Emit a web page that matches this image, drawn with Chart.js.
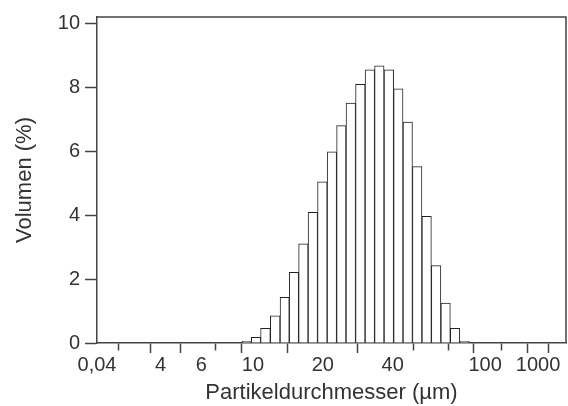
<!DOCTYPE html>
<html>
<head>
<meta charset="utf-8">
<script src="https://cdn.jsdelivr.net/npm/chart.js@4"></script>
<style>
    body { margin: 0; background: #fff; }
    #wrap { width: 568px; height: 406px; }
</style>
</head>
<body>
<div id="wrap"><canvas id="psdChart" width="568" height="406"></canvas></div>
<script>
// Partikelgrößenverteilung - Histogramm

// Klassenmitten (µm)
const binCenters = [9.4, 10.3, 11.3, 12.5, 13.7, 15.0, 16.5, 18.1, 19.9, 21.9, 24.0, 26.4,
    29.0, 31.9, 35.0, 38.5, 42.3, 46.4, 51.0, 56.0, 61.5, 67.6, 74.2, 81.5];
// Volumen (%)
const volumen = [0.05, 0.18, 0.46, 0.85, 1.43, 2.21, 3.10, 4.09, 5.04, 5.98, 6.80, 7.51,
    8.09, 8.55, 8.67, 8.55, 7.95, 6.91, 5.52, 3.96, 2.42, 1.25, 0.46, 0.05];

// Achsenbeschriftung wie im Original
const xTickValues = [2.13, 3.26, 4, 6, 8, 10, 20, 40, 60, 80, 100, 137, 169];
const xTickLabels = ['0,04', '', '4', '6', '', '10', '20', '40', '', '', '100', '', '1000'];
const yTickValues = [0, 2, 4, 6, 8, 10];

const textColor = '#333';
const axisColor = '#444';
const fontFamily = '"Liberation Sans", Arial, sans-serif';

// Rahmen oben und rechts
const frameBox = {
    id: 'frameBox',
    afterDraw(chart) {
        const { ctx, chartArea } = chart;
        ctx.save();
        ctx.strokeStyle = axisColor;
        ctx.lineWidth = 1.5;
        ctx.beginPath();
        ctx.moveTo(chartArea.left, chartArea.top);
        ctx.lineTo(chartArea.right, chartArea.top);
        ctx.lineTo(chartArea.right, chartArea.bottom);
        ctx.stroke();
        ctx.restore();
    }
};

new Chart(document.getElementById('psdChart'), {
    type: 'bar',
    data: {
        datasets: [{
            data: binCenters.map((d, i) => ({ x: d, y: volumen[i] })),
            backgroundColor: '#fff',
            borderColor: '#222',
            borderWidth: 1,
            barThickness: 'flex',
            barPercentage: 1,
            categoryPercentage: 1
        }]
    },
    options: {
        responsive: false,
        animation: false,
        layout: { padding: { left: 5, top: 11, right: 2, bottom: 0 } },
        plugins: { legend: { display: false }, tooltip: { enabled: false } },
        scales: {
            x: {
                type: 'logarithmic',
                min: 2.13,
                max: 223,
                afterBuildTicks: (scale) => { scale.ticks = xTickValues.map(v => ({ value: v })); },
                afterFit: (scale) => { scale.height = 63; },
                ticks: {
                    autoSkip: false,
                    maxRotation: 0,
                    padding: 0,
                    color: textColor,
                    font: { family: fontFamily, size: 20 },
                    callback: (value, index) => xTickLabels[index]
                },
                grid: {
                    drawOnChartArea: false,
                    tickLength: 10,
                    tickColor: axisColor,
                    tickWidth: 1.5,
                    // unbeschriftete Striche kürzer
                    tickBorderDash: (ctx) => xTickLabels[ctx.index] === '' ? [7, 20] : []
                },
                border: { color: axisColor, width: 1.5 },
                title: {
                    display: true,
                    text: 'Partikeldurchmesser (µm)',
                    color: textColor,
                    font: { family: fontFamily, size: 22 },
                    padding: { top: 0, bottom: 0 }
                }
            },
            y: {
                min: 0,
                max: 10.2,
                afterBuildTicks: (scale) => { scale.ticks = yTickValues.map(v => ({ value: v })); },
                afterFit: (scale) => { scale.width = 92; },
                ticks: {
                    padding: 5,
                    color: textColor,
                    font: { family: fontFamily, size: 20 }
                },
                grid: { drawOnChartArea: false, tickLength: 12, tickColor: axisColor, tickWidth: 1.5 },
                border: { color: axisColor, width: 1.5 },
                title: {
                    display: true,
                    text: 'Volumen (%)',
                    color: textColor,
                    font: { family: fontFamily, size: 22 },
                    padding: { top: 7, bottom: 0 }
                }
            }
        }
    },
    plugins: [frameBox]
});
</script>
</body>
</html>
